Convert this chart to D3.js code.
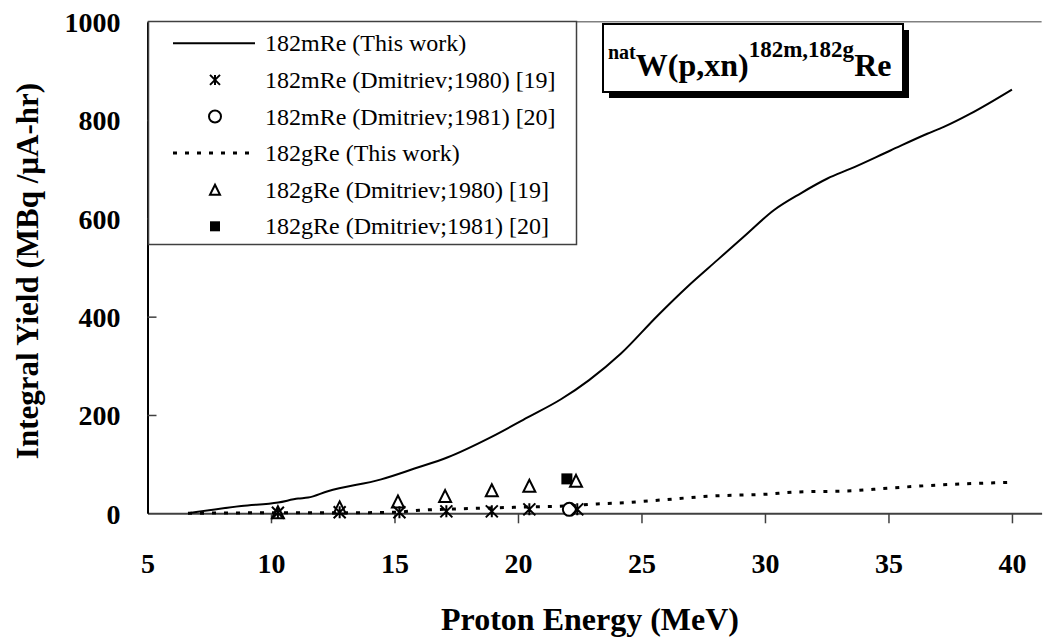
<!DOCTYPE html>
<html>
<head>
<meta charset="utf-8">
<script src="https://cdn.jsdelivr.net/npm/d3@7"></script>
<style>
  html, body { margin: 0; padding: 0; background: #fff; }
  svg { display: block; font-family: "Liberation Serif", "Times New Roman", serif; }
</style>
</head>
<body>
<svg id="chart" width="1053" height="641"></svg>
<script>
// ---------------- data ----------------
const mWorkE = [6.64, 8.8, 10.29, 11.1, 11.5, 12.3, 14.46, 15.81, 17.16, 18.91, 20.39, 21.74, 22.88, 24.17, 25.65, 26.86, 28.07, 29.15, 30.37, 31.45, 32.53, 33.47, 35.08, 36.57, 37.24, 38.32, 40];
const mWorkY = [0, 15, 22, 30, 32, 45, 69, 91, 114, 155, 195, 232, 271, 325, 402, 461, 515, 563, 617, 651, 681, 701, 738, 772, 786, 813, 862];

const gWorkE = [6.64, 10, 12.5, 15, 16, 17.5, 19, 20.5, 22, 23.2, 24.44, 25.78, 27.8, 30.1, 31.2, 33.6, 34.95, 37.6, 40];
const gWorkY = [0, 1, 1, 2, 6, 9, 11, 13, 15, 19, 22, 27, 35, 39, 43, 46, 51, 59, 63];

const m1980E = [10.28, 12.78, 15.2, 17.1, 18.94, 20.46, 22.4];
const m1980Y = [1, 2, 2, 4, 4, 8, 8];
const m1981E = [22.08];
const m1981Y = [8];
const g1980E = [10.28, 12.78, 15.14, 17.05, 18.94, 20.46, 22.35];
const g1980Y = [2, 12, 24, 35, 47, 56, 66];
const g1981E = [21.98];
const g1981Y = [70];

const xTicks = [5, 10, 15, 20, 25, 30, 35, 40];
const yTicks = [0, 200, 400, 600, 800, 1000];

const legendLabels = [
  "182mRe (This work)",
  "182mRe (Dmitriev;1980) [19]",
  "182mRe (Dmitriev;1981) [20]",
  "182gRe (This work)",
  "182gRe (Dmitriev;1980) [19]",
  "182gRe (Dmitriev;1981) [20]"
];
const xTitle = "Proton Energy (MeV)";
const yTitle = "Integral Yield (MBq /\u00B5A-hr)";

// ---------------- layout ----------------
const svg = d3.select("#chart");
const L = 147.5, R = 1041.6, T = 21.7, B = 513.3;
const x = d3.scaleLinear().domain([5, 41.2]).range([L, R]);
const y = d3.scaleLinear().domain([0, 1000]).range([B, T]);

// plot top border
svg.append("line").attr("x1", L).attr("x2", R).attr("y1", T).attr("y2", T)
  .attr("stroke", "#808080").attr("stroke-width", 1.5);

// x axis
const gx = svg.append("g").attr("transform", `translate(0,${B})`)
  .call(d3.axisBottom(x).tickValues(xTicks).tickSizeInner(10).tickSizeOuter(0).tickFormat(d3.format("d")));
gx.select(".domain").attr("stroke", "#404040").attr("stroke-width", 2);
gx.selectAll(".tick line").attr("stroke", "#404040").attr("stroke-width", 1.5);
gx.selectAll(".tick text").attr("y", 60).attr("dy", 0)
  .attr("font-size", 28).attr("font-weight", "bold").attr("fill", "#000")
  .attr("font-family", "Liberation Serif");
gx.selectAll(".tick").filter(d => d === 5).select("line").remove();

// y axis
const gy = svg.append("g").attr("transform", `translate(${L},0)`)
  .call(d3.axisLeft(y).tickValues(yTicks).tickSizeInner(-9).tickSizeOuter(0).tickPadding(27).tickFormat(d3.format("d")));
gy.select(".domain").attr("stroke", "#000").attr("stroke-width", 2);
gy.selectAll(".tick line").attr("stroke", "#404040").attr("stroke-width", 1.5);
gy.selectAll(".tick").filter(d => d === 0 || d === 1000).select("line").remove();
gy.selectAll(".tick text").attr("dy", "0.35em")
  .attr("font-size", 28).attr("font-weight", "bold").attr("fill", "#000")
  .attr("font-family", "Liberation Serif");

// axis titles
svg.append("text").attr("x", 590).attr("y", 630).attr("text-anchor", "middle")
  .attr("font-size", 32).attr("font-weight", "bold").text(xTitle);
svg.append("text").attr("transform", "translate(38,271) rotate(-90)").attr("text-anchor", "middle")
  .attr("font-size", 31).attr("font-weight", "bold").text(yTitle);

// ---------------- series ----------------
const line = d3.line().x(d => x(d[0])).y(d => y(d[1])).curve(d3.curveMonotoneX);
svg.append("path").datum(d3.zip(mWorkE, mWorkY)).attr("d", line)
  .attr("fill", "none").attr("stroke", "#000").attr("stroke-width", 2);
svg.append("path").datum(d3.zip(gWorkE, gWorkY)).attr("d", line)
  .attr("fill", "none").attr("stroke", "#000").attr("stroke-width", 3)
  .attr("stroke-dasharray", "4,8");

function asterisk(g, cx, cy, s) {
  const h = s / 2;
  g.append("path").attr("d", `M${cx - h},${cy - h}L${cx + h},${cy + h}M${cx - h},${cy + h}L${cx + h},${cy - h}M${cx},${cy - h}L${cx},${cy + h}`)
    .attr("stroke", "#000").attr("stroke-width", 2).attr("fill", "none");
}
function triangle(g, cx, cy, s) {
  const h = s / 2;
  g.append("path").attr("d", `M${cx},${cy - h}L${cx + h},${cy + h}L${cx - h},${cy + h}Z`)
    .attr("stroke", "#000").attr("stroke-width", 2).attr("fill", "none");
}
function circle(g, cx, cy, s) {
  g.append("circle").attr("cx", cx).attr("cy", cy).attr("r", s / 2)
    .attr("stroke", "#000").attr("stroke-width", 2).attr("fill", "#fff");
}
function square(g, cx, cy, s) {
  g.append("rect").attr("x", cx - s / 2).attr("y", cy - s / 2).attr("width", s).attr("height", s)
    .attr("fill", "#000");
}

const mk = svg.append("g");
d3.zip(g1980E, g1980Y).forEach(d => triangle(mk, x(d[0]), y(d[1]), 12));
d3.zip(g1981E, g1981Y).forEach(d => square(mk, x(d[0]), y(d[1]), 11));
d3.zip(m1981E, m1981Y).forEach(d => circle(mk, x(d[0]), y(d[1]), 13));
d3.zip(m1980E, m1980Y).forEach(d => asterisk(mk, x(d[0]), y(d[1]), 12));

// ---------------- legend ----------------
const lg = svg.append("g");
lg.append("rect").attr("x", 148.5).attr("y", 21.5).attr("width", 428).attr("height", 223)
  .attr("fill", "#fff").attr("stroke", "#404040").attr("stroke-width", 1.5);
const rowY = i => 43.3 + i * 36.6;
lg.append("line").attr("x1", 173).attr("x2", 255).attr("y1", rowY(0)).attr("y2", rowY(0))
  .attr("stroke", "#000").attr("stroke-width", 2);
asterisk(lg, 215, rowY(1), 10);
circle(lg, 215, rowY(2), 12);
lg.append("line").attr("x1", 173).attr("x2", 255).attr("y1", rowY(3)).attr("y2", rowY(3))
  .attr("stroke", "#000").attr("stroke-width", 3).attr("stroke-dasharray", "4,8");
triangle(lg, 215, rowY(4), 10);
square(lg, 215, rowY(5), 10);
legendLabels.forEach((t, i) => {
  lg.append("text").attr("x", 265).attr("y", rowY(i) + 8).attr("font-size", 24).text(t);
});

// ---------------- title box ----------------
const tb = svg.append("g");
tb.append("rect").attr("x", 609).attr("y", 30).attr("width", 300).attr("height", 68).attr("fill", "#000");
tb.append("rect").attr("x", 603).attr("y", 24).attr("width", 300).attr("height", 68)
  .attr("fill", "#fff").attr("stroke", "#000").attr("stroke-width", 2);
const tt = tb.append("text").attr("x", 608).attr("y", 76).attr("font-weight", "bold");
tt.append("tspan").attr("font-size", 20).attr("dy", -17).text("nat");
tt.append("tspan").attr("font-size", 32).attr("dy", 17).text("W(p,xn)");
tt.append("tspan").attr("font-size", 23).attr("dy", -19).text("182m,182g");
tt.append("tspan").attr("font-size", 32).attr("dy", 19).text("Re");
</script>
</body>
</html>
